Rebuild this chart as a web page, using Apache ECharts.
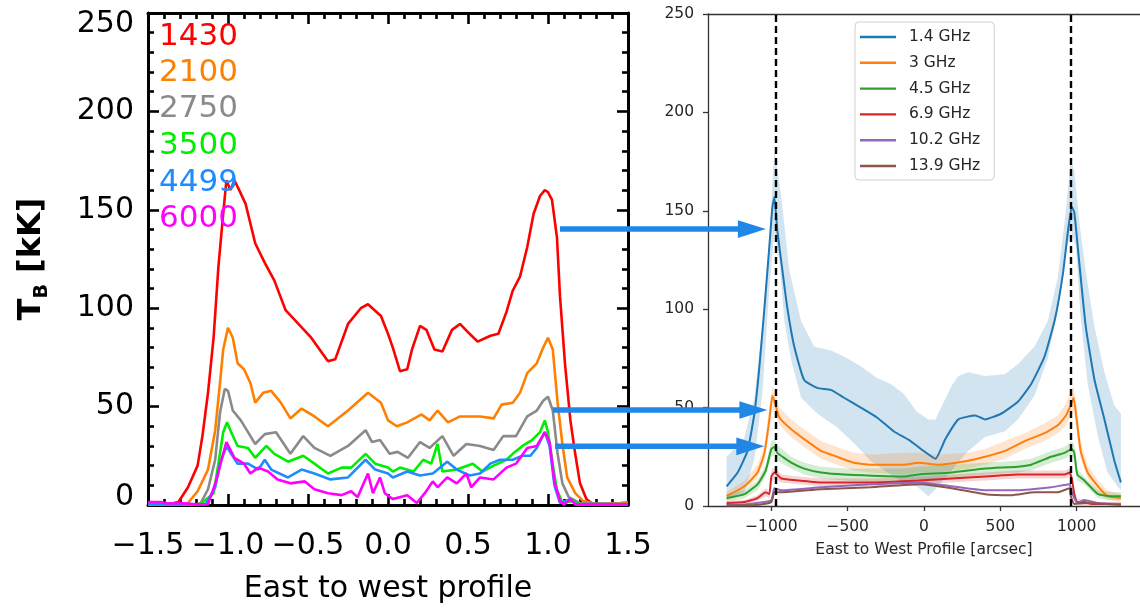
<!DOCTYPE html>
<html>
<head>
<meta charset="utf-8">
<script src="https://cdn.jsdelivr.net/npm/echarts@6.0.0/dist/echarts.min.js"></script>
<style>
html,body{margin:0;padding:0;background:#fff;}
#chart{width:1140px;height:609px;}
</style>
</head>
<body>
<div id="chart"></div>
<script>
// ---------- LEFT PANEL (IDL style): x = East-to-west profile (R_sun), y = T_B [kK]
var leftNames = ['1430', '2100', '2750', '3500', '4499', '6000'];
var leftColors = ['#ff0000', '#ff8000', '#8a8a8a', '#00ee00', '#1e8cff', '#ff00ff'];
var leftXTicks = [-1.5, -1.0, -0.5, 0.0, 0.5, 1.0, 1.5];
var leftYTicks = [0, 50, 100, 150, 200, 250];

var red1430 = [[-1.5,0.5],[-1.4,0.5],[-1.35,0.8],[-1.31,1.5],[-1.25,9],[-1.19,20],[-1.16,35],[-1.125,57],[-1.09,85],[-1.06,121],[-1.03,148],[-1.01,165],[-0.985,160],[-0.96,165],[-0.93,160],[-0.89,153],[-0.83,133],[-0.77,123],[-0.71,114],[-0.64,99],[-0.56,92],[-0.48,85],[-0.375,73],[-0.33,74],[-0.25,92],[-0.17,100],[-0.125,102],[-0.044,96],[0.0,87],[0.03,80],[0.075,68],[0.12,69],[0.15,79],[0.2,91],[0.24,89],[0.29,79],[0.34,78],[0.4,89],[0.45,92],[0.51,87],[0.56,83],[0.64,86],[0.69,87],[0.74,98],[0.78,109],[0.825,116],[0.87,131],[0.91,148],[0.95,157],[0.98,160],[1.0,159],[1.025,155],[1.056,136],[1.075,106],[1.106,72],[1.14,43],[1.17,26],[1.2,11],[1.24,3],[1.28,0.5],[1.5,0.5]];
var orange2100 = [[-1.5,0.5],[-1.3,0.5],[-1.25,1],[-1.19,7],[-1.125,18],[-1.08,38],[-1.05,62],[-1.03,79],[-1.0,90],[-0.97,85],[-0.94,72],[-0.9,69],[-0.86,62],[-0.83,52],[-0.78,57],[-0.73,58],[-0.67,52],[-0.61,44],[-0.54,49],[-0.46,45],[-0.375,40],[-0.25,48],[-0.125,57],[-0.044,52],[0.0,43],[0.056,40],[0.12,42],[0.21,46],[0.26,43],[0.31,48],[0.375,42],[0.45,45],[0.575,45],[0.66,44],[0.71,51],[0.78,52],[0.825,57],[0.87,67],[0.93,72],[0.97,80],[1.0,85],[1.03,79],[1.06,52],[1.09,31],[1.12,14],[1.17,6],[1.22,2],[1.3,0.5],[1.45,1],[1.5,1.5]];
var gray2750 = [[-1.5,0.3],[-1.2,0.3],[-1.17,1],[-1.125,8],[-1.08,23],[-1.05,47],[-1.02,59],[-1.0,58],[-0.97,48],[-0.92,43],[-0.875,37],[-0.83,31],[-0.77,36],[-0.7,37],[-0.61,26],[-0.53,35],[-0.46,29],[-0.36,25],[-0.25,30],[-0.14,38],[-0.1,32],[-0.05,33],[0.01,26],[0.06,27],[0.125,24],[0.2,32],[0.26,29],[0.34,35],[0.41,25],[0.49,31],[0.575,30],[0.66,28],[0.72,35],[0.8,35],[0.87,45],[0.93,48],[0.97,53],[1.0,55],[1.03,48],[1.06,26],[1.09,11],[1.13,4],[1.2,1],[1.5,0.3]];
var green3500 = [[-1.5,0.3],[-1.2,0.3],[-1.17,0.5],[-1.09,6],[-1.06,21],[-1.03,37],[-1.006,42],[-0.98,37],[-0.94,30],[-0.875,29],[-0.83,24],[-0.76,30],[-0.71,26],[-0.625,22],[-0.53,25],[-0.46,21],[-0.375,16],[-0.29,19],[-0.23,19],[-0.14,26],[-0.08,21],[0.0,19],[0.03,17],[0.075,19],[0.16,17],[0.22,23],[0.27,21],[0.31,31],[0.34,17],[0.43,18],[0.53,21],[0.59,17],[0.66,20],[0.74,23],[0.78,26],[0.84,30],[0.9,33],[0.95,37],[0.98,43],[1.0,37],[1.025,23],[1.055,8],[1.09,1],[1.16,2],[1.2,0.3],[1.5,0.3]];
var blue4499 = [[-1.5,0.5],[-1.14,0.3],[-1.08,9],[-1.05,21],[-1.01,30],[-0.98,26],[-0.94,21],[-0.875,21],[-0.81,18],[-0.77,23],[-0.73,18],[-0.625,14],[-0.54,18],[-0.46,16],[-0.36,13],[-0.25,14],[-0.14,23],[-0.08,18],[0.0,16],[0.03,14],[0.12,17],[0.2,15],[0.28,16],[0.37,22],[0.43,18],[0.51,15],[0.575,16],[0.64,21],[0.7,23],[0.78,23],[0.84,25],[0.89,25],[0.93,29],[0.98,37],[1.01,30],[1.04,10],[1.075,1],[1.14,3],[1.18,0.3],[1.5,0.5]];
var magenta6000 = [[-1.5,1.5],[-1.42,1.5],[-1.38,0.8],[-1.3,1],[-1.2,0.3],[-1.125,0.3],[-1.075,12],[-1.04,23],[-1.01,32],[-0.96,24],[-0.9,21],[-0.86,16],[-0.81,19],[-0.75,17],[-0.69,13],[-0.61,11],[-0.52,12],[-0.46,8],[-0.375,6],[-0.29,5],[-0.23,7],[-0.19,4],[-0.125,16],[-0.094,6],[-0.05,14],[-0.02,6],[0.03,3],[0.12,5],[0.18,1],[0.23,6],[0.28,12],[0.31,9],[0.37,14],[0.43,11],[0.49,16],[0.52,9],[0.575,14],[0.66,13],[0.74,19],[0.8,21],[0.87,29],[0.93,30],[0.98,37],[1.01,32],[1.04,12],[1.075,2],[1.1,0.3],[1.14,3],[1.17,0.3],[1.5,0.3]];

// ---------- RIGHT PANEL (matplotlib style): x = arcsec, y = T_B [kK]
var rightNames = ['1.4 GHz', '3 GHz', '4.5 GHz', '6.9 GHz', '10.2 GHz', '13.9 GHz'];
var rightColors = ['#1f77b4', '#ff7f0e', '#2ca02c', '#d62728', '#9467bd', '#8c564b'];
var rightXTicks = [-1000, -500, 0, 500, 1000];
var rightYTicks = [0, 50, 100, 150, 200, 250];
var limbX = [-970, 960];

var f14 = [[-1293,10],[-1221,17],[-1156,28],[-1111,47],[-1078,71],[-1045,101],[-1013,132],[-993,152],[-980,157],[-961,140],[-928,120],[-896,101],[-850,81],[-785,64],[-700,60],[-610,59],[-524,55],[-414,50],[-308,45],[-199,38],[-88,33],[-3,28],[75,24],[140,34],[225,44],[336,46],[400,44],[507,47],[615,53],[702,62],[790,76],[858,95],[910,118],[942,139],[968,152],[985,149],[1018,123],[1060,91],[1117,64],[1182,44],[1247,23],[1290,12]];
var f14Hi = [[-1293,25],[-1180,34],[-1111,55],[-1059,92],[-1013,137],[-980,181],[-935,157],[-883,120],[-805,94],[-720,81],[-610,79],[-524,76],[-414,71],[-308,65],[-218,62],[-133,57],[-49,48],[29,44],[75,44],[180,61],[225,66],[290,68],[400,66],[530,67],[615,72],[724,81],[811,94],[876,116],[921,144],[962,176],[985,170],[1018,144],[1060,119],[1117,91],[1182,68],[1247,51],[1290,47]];
var f14Lo = [[-1293,3],[-1180,6],[-1111,24],[-1059,57],[-1013,111],[-980,139],[-948,125],[-915,94],[-870,74],[-805,55],[-700,47],[-570,40],[-460,32],[-350,23],[-240,17],[-133,12],[-49,10],[29,5],[94,10],[180,18],[290,28],[400,35],[530,38],[615,44],[724,56],[811,75],[876,100],[921,125],[962,140],[995,132],[1025,97],[1072,62],[1140,35],[1202,17],[1267,10],[1290,8]];

var f3 = [[-1293,5],[-1176,10],[-1091,17],[-1045,27],[-1013,44],[-993,56],[-974,52],[-948,45],[-870,39],[-785,34],[-675,28],[-570,25],[-460,22],[-350,21],[-133,21],[-36,22],[94,21],[290,23],[400,25],[530,28],[660,33],[790,37],[876,41],[930,46],[960,51],[980,55],[1000,44],[1026,28],[1072,17],[1140,10],[1202,5],[1290,4]];
var f3Hi = [[-1293,7],[-1176,13],[-1091,21],[-1045,31],[-1013,50],[-993,61],[-974,58],[-948,50],[-870,44],[-785,39],[-675,33],[-570,30],[-460,27],[-350,26],[-133,27],[-36,27],[94,26],[290,27],[400,29],[530,33],[660,37],[790,42],[876,46],[930,52],[960,58],[980,61],[1000,51],[1026,33],[1072,21],[1140,13],[1202,8],[1290,6]];
var f3Lo = [[-1293,3],[-1176,8],[-1091,14],[-1045,23],[-1013,38],[-993,50],[-974,47],[-948,41],[-870,35],[-785,30],[-675,24],[-570,21],[-460,18],[-350,17],[-133,16],[-36,17],[94,17],[290,19],[400,21],[530,24],[660,29],[790,33],[876,37],[930,41],[960,45],[980,49],[1000,38],[1026,24],[1072,14],[1140,7],[1202,3],[1290,2]];

var f45 = [[-1293,4],[-1176,6],[-1091,11],[-1037,18],[-1000,29],[-980,30],[-961,27],[-870,22],[-785,19],[-675,17],[-524,16],[-133,15],[-36,16],[180,17],[400,19],[615,20],[702,21],[832,25],[921,27],[968,29],[985,27],[1004,16],[1050,13],[1140,6],[1225,5],[1290,5]];
var f45Hi = [[-1293,6],[-1176,8],[-1091,13],[-1037,21],[-1000,33],[-980,34],[-961,31],[-870,25],[-785,22],[-675,20],[-524,19],[-133,19],[-36,20],[180,21],[400,22],[615,23],[702,24],[832,28],[921,30],[968,33],[985,31],[1004,19],[1050,15],[1140,8],[1225,7],[1290,7]];
var f45Lo = [[-1293,2],[-1176,4],[-1091,8],[-1037,15],[-1000,25],[-980,26],[-961,23],[-870,19],[-785,16],[-675,14],[-524,13],[-133,11],[-36,12],[180,14],[400,16],[615,17],[702,18],[832,22],[921,24],[968,26],[985,23],[1004,13],[1050,11],[1140,4],[1225,3],[1290,3]];

var f69 = [[-1293,1.5],[-1176,2],[-1091,4],[-1037,7],[-1013,6],[-1000,15],[-980,17],[-935,14],[-826,13],[-675,12],[-342,12],[-36,13],[400,15],[615,16],[832,16],[921,16],[953,17],[968,14],[985,6],[1004,2],[1050,2],[1100,1],[1290,1]];
var f69Hi = [[-1293,2.5],[-1176,3],[-1091,5.5],[-1037,9],[-1013,8],[-1000,18],[-980,20],[-935,16],[-826,15],[-675,14],[-342,14],[-36,15],[400,17],[615,18],[832,18],[921,18],[953,19],[968,16],[985,8],[1004,3.5],[1050,3.5],[1100,2],[1290,2]];
var f69Lo = [[-1293,0.5],[-1176,1],[-1091,2.5],[-1037,5],[-1013,4],[-1000,12],[-980,14],[-935,12],[-826,11],[-675,10],[-342,10],[-36,11],[400,13],[615,14],[832,14],[921,14],[953,15],[968,12],[985,4],[1004,0.5],[1050,0.5],[1100,0.3],[1290,0.3]];

var f102 = [[-1293,0.5],[-1176,0.8],[-1045,2],[-1000,3],[-980,9],[-935,8],[-675,9.5],[-350,11],[-25,12],[180,10],[400,8],[615,8],[832,9.5],[953,11],[968,7],[1004,1.5],[1050,3],[1140,1.5],[1290,1]];
var f139 = [[-1293,0.3],[-1100,0.5],[-1000,2],[-980,7],[-935,7],[-675,8.5],[-350,9.5],[-25,11],[180,9],[400,6],[570,5.5],[724,7],[876,7],[953,9],[962,5],[985,1],[1050,1.5],[1290,0.5]];

// arrows linking the panels: start in left-panel data units, end x in right-panel data units
var arrowFrom = [[1.075, 140.2], [1.03, 48.3], [1.044, 29.8]];
var arrowToX = [-1036, -1026, -1046];

var leftData = [red1430, orange2100, gray2750, green3500, blue4499, magenta6000];
var rightData = [f14, f3, f45, f69, f102, f139];
var rightBands = [[f14Hi, f14Lo], [f3Hi, f3Lo], [f45Hi, f45Lo], [f69Hi, f69Lo]];

var FONT = 'DejaVu Sans';
var chart = echarts.init(document.getElementById('chart'), null, {renderer: 'canvas'});

function minusFmt(v, dec) {
  var s = Math.abs(v).toFixed(dec);
  return (v < 0 ? '\u2212' : '') + s;
}
function hexA(hex, a) {
  var r = parseInt(hex.substr(1,2),16), g = parseInt(hex.substr(3,2),16), b = parseInt(hex.substr(5,2),16);
  return 'rgba(' + r + ',' + g + ',' + b + ',' + a + ')';
}

var idlAxisLine = {show: true, onZero: false, lineStyle: {color: '#000', width: 3}};
var idlTick = {show: true, inside: true, length: 11, lineStyle: {color: '#000', width: 2.6}};
var idlMinor = {show: true, splitNumber: 5, length: 6, lineStyle: {color: '#000', width: 2.6}};
var mplLine = {show: true, onZero: false, lineStyle: {color: '#333', width: 1.3}};

var series = [];
leftData.forEach(function (d, i) {
  series.push({
    name: leftNames[i], type: 'line', xAxisIndex: 0, yAxisIndex: 0, data: d,
    symbol: 'none', lineStyle: {color: leftColors[i], width: 2.6}, itemStyle: {color: leftColors[i]},
    clip: true, z: 3, silent: true, animation: false
  });
});
rightBands.forEach(function (b, i) {
  var hi = b[0], lo = b[1];
  series.push({
    type: 'custom', xAxisIndex: 2, yAxisIndex: 2, data: hi, clip: true, silent: true, z: 2,
    encode: {x: 0, y: 1}, animation: false,
    renderItem: function (params, api) {
      if (params.dataIndex !== 0) return null;
      var pts = hi.map(function (p) { return api.coord(p); })
        .concat(lo.slice().reverse().map(function (p) { return api.coord(p); }));
      return {type: 'polygon', shape: {points: pts}, style: {fill: hexA(rightColors[i], 0.2), stroke: null}};
    }
  });
});
rightData.forEach(function (d, i) {
  var s = {
    name: rightNames[i], type: 'line', xAxisIndex: 2, yAxisIndex: 2, data: d,
    symbol: 'none', smooth: 0.15, lineStyle: {color: rightColors[i], width: 2}, itemStyle: {color: rightColors[i]},
    clip: true, z: 3, silent: true, animation: false
  };
  if (i === rightData.length - 1) {
    s.markLine = {
      symbol: 'none', silent: true, animation: false, label: {show: false}, z: 10,
      lineStyle: {color: '#000', width: 2.4, type: [7, 4]},
      data: limbX.map(function (x) { return {xAxis: x}; })
    };
  }
  series.push(s);
});

var option = {
  animation: false,
  backgroundColor: '#ffffff',
  textStyle: {fontFamily: FONT},
  grid: [
    {left: 148, top: 13, width: 480, height: 492, containLabel: false},
    {left: 708, top: 14, width: 436, height: 492, containLabel: false}
  ],
  legend: {
    data: rightNames, orient: 'vertical', left: 855, top: 22,
    icon: 'rect', itemWidth: 36, itemHeight: 2.4, itemGap: 9.8,
    padding: [7, 14, 6, 5],
    backgroundColor: 'rgba(255,255,255,0.85)', borderColor: '#d0d0d0', borderWidth: 1, borderRadius: 4,
    textStyle: {fontFamily: FONT, fontSize: 15.5, color: '#262626', lineHeight: 16, padding: [0, 0, 0, 8]},
    selectedMode: false
  },
  xAxis: [
    {
      gridIndex: 0, type: 'value', min: leftXTicks[0], max: leftXTicks[leftXTicks.length - 1], interval: 0.5,
      position: 'bottom', axisLine: idlAxisLine, axisTick: idlTick, minorTick: idlMinor, splitLine: {show: false},
      axisLabel: {fontFamily: FONT, fontSize: 30, color: '#000', margin: 26, formatter: function (v) { return minusFmt(v, 1); }},
      name: 'East to west profile', nameLocation: 'middle', nameGap: 69,
      nameTextStyle: {fontFamily: FONT, fontSize: 30, color: '#000'}
    },
    {
      gridIndex: 0, type: 'value', min: leftXTicks[0], max: leftXTicks[leftXTicks.length - 1], interval: 0.5,
      position: 'top', axisLine: idlAxisLine, axisTick: idlTick, minorTick: idlMinor, splitLine: {show: false},
      axisLabel: {show: false}
    },
    {
      gridIndex: 1, type: 'value', min: -1415, max: 1415, position: 'bottom',
      axisLine: mplLine,
      axisTick: {show: true, inside: false, length: 5, customValues: rightXTicks, lineStyle: {color: '#333', width: 1.3}},
      axisLabel: {customValues: rightXTicks, fontFamily: FONT, fontSize: 15.5, color: '#262626', margin: 13,
        formatter: function (v) { return minusFmt(v, 0); }},
      splitLine: {show: false},
      name: 'East to West Profile [arcsec]', nameLocation: 'middle', nameGap: 36,
      nameTextStyle: {fontFamily: FONT, fontSize: 15.5, color: '#262626'}
    },
    {
      gridIndex: 1, type: 'value', min: -1415, max: 1415, position: 'top',
      axisLine: mplLine, axisTick: {show: false}, axisLabel: {show: false}, splitLine: {show: false}
    }
  ],
  yAxis: [
    {
      gridIndex: 0, type: 'value', min: leftYTicks[0], max: leftYTicks[leftYTicks.length - 1], interval: 50,
      position: 'left', axisLine: idlAxisLine, axisTick: idlTick, minorTick: idlMinor, splitLine: {show: false},
      axisLabel: {
        fontFamily: FONT, fontSize: 30, color: '#000', margin: 14,
        formatter: function (v) {
          if (v === leftYTicks[leftYTicks.length - 1]) return '{top|' + v + '}';
          if (v === leftYTicks[0]) return '{bot|' + v + '}';
          return String(v);
        },
        rich: {
          top: {fontFamily: FONT, fontSize: 30, color: '#000', padding: [22, 0, 0, 0]},
          bot: {fontFamily: FONT, fontSize: 30, color: '#000', padding: [0, 0, 15, 0]}
        }
      },
      name: '{t|T}{s|B}{t| [kK]}', nameLocation: 'middle', nameRotate: 90, nameGap: 96,
      nameTextStyle: {
        color: '#000',
        rich: {
          t: {fontFamily: FONT, fontSize: 32, fontWeight: 'bold', color: '#000', lineHeight: 40},
          s: {fontFamily: FONT, fontSize: 19, fontWeight: 'bold', color: '#000', lineHeight: 40, verticalAlign: 'bottom', padding: [14, 0, 0, 0]}
        }
      }
    },
    {
      gridIndex: 0, type: 'value', min: leftYTicks[0], max: leftYTicks[leftYTicks.length - 1], interval: 50,
      position: 'right', axisLine: idlAxisLine, axisTick: idlTick, minorTick: idlMinor, splitLine: {show: false},
      axisLabel: {show: false}
    },
    {
      gridIndex: 1, type: 'value', min: rightYTicks[0], max: rightYTicks[rightYTicks.length - 1], interval: 50,
      position: 'left', axisLine: mplLine,
      axisTick: {show: true, inside: false, length: 5, lineStyle: {color: '#333', width: 1.3}},
      axisLabel: {fontFamily: FONT, fontSize: 15.5, color: '#262626', margin: 14},
      splitLine: {show: false}
    }
  ],
  series: series
};
chart.setOption(option);

// labels of the left panel + arrows linking the two panels
var graphics = [];
var labelY = [39, 75, 111, 148, 185, 221];
leftNames.forEach(function (n, i) {
  graphics.push({
    type: 'text', left: 159, top: labelY[i] - 18, silent: true, z: 20,
    style: {text: n, fill: leftColors[i], font: '31px "DejaVu Sans"'}
  });
});
arrowFrom.forEach(function (f, i) {
  var p0 = chart.convertToPixel({gridIndex: 0}, f);
  var pEnd = chart.convertToPixel({gridIndex: 1}, [arrowToX[i], 0]);
  var y = p0[1], x0 = p0[0], x1 = pEnd[0];
  var headL = 28, headH = 8.8;
  graphics.push({
    type: 'line', silent: true, z: 30,
    shape: {x1: x0, y1: y, x2: x1 - headL + 2, y2: y},
    style: {stroke: '#2187e7', lineWidth: 5.5}
  });
  graphics.push({
    type: 'polygon', silent: true, z: 30,
    shape: {points: [[x1 - headL, y - headH], [x1, y], [x1 - headL, y + headH]]},
    style: {fill: '#2187e7'}
  });
});
chart.setOption({graphic: graphics});
</script>
</body>
</html>
